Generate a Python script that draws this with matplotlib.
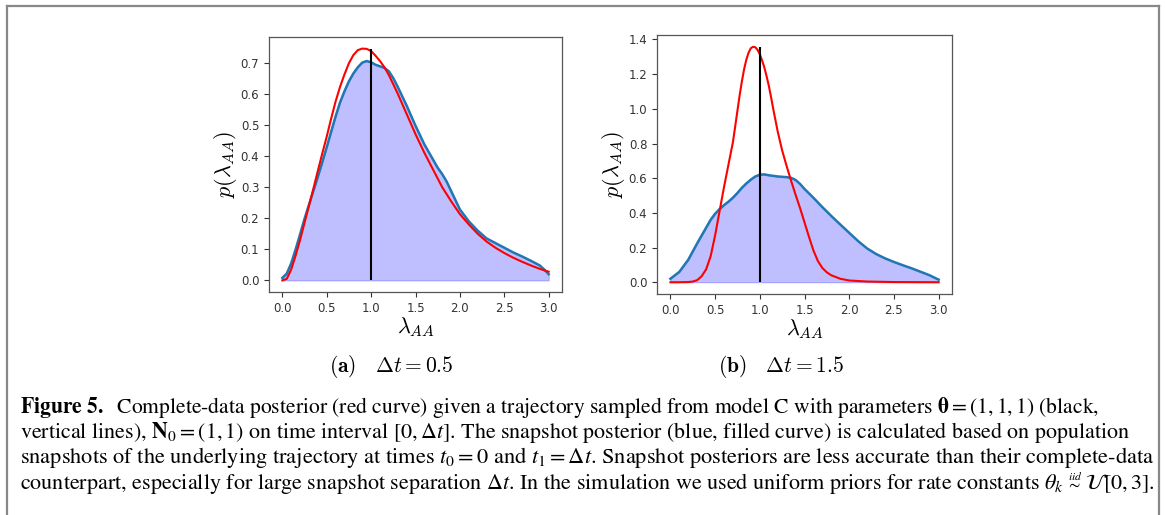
import matplotlib
matplotlib.use("Agg")
import matplotlib.pyplot as plt
from matplotlib.lines import Line2D

# ---------------- data ----------------
true_value = 1.0

# panel (a): dt = 0.5
red_a_x = [0, 0.05, 0.1, 0.15, 0.2, 0.25, 0.3, 0.35, 0.4, 0.45, 0.5, 0.55, 0.6, 0.65, 0.7,
           0.75, 0.8, 0.85, 0.9, 0.95, 1.0, 1.05, 1.1, 1.15, 1.2, 1.3, 1.4, 1.5, 1.6, 1.7,
           1.8, 1.9, 2.0, 2.1, 2.2, 2.3, 2.4, 2.5, 2.6, 2.7, 2.8, 2.9, 3.0]
red_a_y = [0.0, 0.005, 0.035, 0.08, 0.13, 0.185, 0.24, 0.295, 0.352, 0.408, 0.462, 0.52,
           0.575, 0.622, 0.662, 0.698, 0.724, 0.74, 0.745, 0.744, 0.737, 0.722, 0.705,
           0.685, 0.66, 0.60, 0.535, 0.47, 0.41, 0.355, 0.30, 0.255, 0.213, 0.18, 0.15,
           0.125, 0.105, 0.088, 0.073, 0.06, 0.048, 0.037, 0.028]
blue_a_x = [0, 0.05, 0.1, 0.15, 0.2, 0.25, 0.3, 0.35, 0.4, 0.45, 0.5, 0.55, 0.6, 0.65, 0.7,
            0.75, 0.8, 0.85, 0.9, 0.95, 1.0, 1.05, 1.1, 1.15, 1.2, 1.25, 1.3, 1.4, 1.5,
            1.6, 1.7, 1.75, 1.8, 1.85, 1.9, 2.0, 2.1, 2.2, 2.3, 2.4, 2.5, 2.6, 2.7, 2.8,
            2.9, 2.95, 3.0]
blue_a_y = [0.008, 0.022, 0.055, 0.1, 0.148, 0.198, 0.243, 0.288, 0.333, 0.38, 0.428,
            0.478, 0.527, 0.572, 0.608, 0.64, 0.665, 0.685, 0.70, 0.705, 0.701, 0.693,
            0.688, 0.683, 0.672, 0.65, 0.622, 0.562, 0.497, 0.437, 0.387, 0.362, 0.342,
            0.318, 0.288, 0.228, 0.19, 0.16, 0.135, 0.12, 0.105, 0.09, 0.077, 0.063,
            0.048, 0.035, 0.02]

# panel (b): dt = 1.5
red_b_x = [0, 0.1, 0.2, 0.25, 0.3, 0.35, 0.4, 0.45, 0.5, 0.55, 0.6, 0.65, 0.7, 0.725, 0.75,
           0.775, 0.8, 0.825, 0.85, 0.875, 0.9, 0.925, 0.95, 0.975, 1.0, 1.025, 1.05,
           1.075, 1.1, 1.125, 1.15, 1.2, 1.25, 1.3, 1.35, 1.4, 1.45, 1.5, 1.55, 1.6, 1.65,
           1.7, 1.75, 1.8, 1.9, 2.0, 2.2, 2.5, 3.0]
red_b_y = [0, 0, 0.001, 0.004, 0.012, 0.035, 0.075, 0.15, 0.27, 0.41, 0.55, 0.68, 0.81,
           0.90, 0.99, 1.08, 1.16, 1.23, 1.285, 1.325, 1.35, 1.358, 1.355, 1.34, 1.315,
           1.28, 1.24, 1.19, 1.135, 1.07, 1.0, 0.87, 0.76, 0.67, 0.585, 0.505, 0.428,
           0.345, 0.262, 0.183, 0.122, 0.082, 0.057, 0.04, 0.02, 0.01, 0.004, 0.001, 0]
blue_b_x = [0, 0.1, 0.2, 0.3, 0.4, 0.45, 0.5, 0.55, 0.6, 0.65, 0.7, 0.75, 0.8, 0.85, 0.9,
            0.95, 1.0, 1.05, 1.1, 1.2, 1.3, 1.35, 1.4, 1.45, 1.5, 1.6, 1.7, 1.8, 1.9, 2.0,
            2.1, 2.2, 2.3, 2.4, 2.5, 2.6, 2.7, 2.8, 2.9, 3.0]
blue_b_y = [0.02, 0.06, 0.13, 0.225, 0.315, 0.36, 0.395, 0.422, 0.445, 0.465, 0.488, 0.515,
            0.545, 0.57, 0.592, 0.61, 0.62, 0.622, 0.617, 0.61, 0.606, 0.602, 0.59, 0.567,
            0.538, 0.487, 0.433, 0.382, 0.333, 0.285, 0.237, 0.195, 0.163, 0.138, 0.117,
            0.098, 0.08, 0.06, 0.04, 0.015]

x_ticks = [0.0, 0.5, 1.0, 1.5, 2.0, 2.5, 3.0]
y_ticks_a = [0.0, 0.1, 0.2, 0.3, 0.4, 0.5, 0.6, 0.7]
y_ticks_b = [0.0, 0.2, 0.4, 0.6, 0.8, 1.0, 1.2, 1.4]

sub_a = r'$\mathbf{(a)}\quad \Delta t = 0.5$'
sub_b = r'$\mathbf{(b)}\quad \Delta t = 1.5$'

caption_lines = [
    r'$\mathbf{Figure\ 5.}$  Complete-data posterior (red curve) given a trajectory sampled from model C with parameters $\mathbf{\theta} = (1, 1, 1)$ (black,',
    r'vertical lines), $\mathbf{N}_0 = (1, 1)$ on time interval $[0, \Delta t]$. The snapshot posterior (blue, filled curve) is calculated based on population',
    r'snapshots of the underlying trajectory at times $t_0 = 0$ and $t_1 = \Delta t$. Snapshot posteriors are less accurate than their complete-data',
]
caption_last_parts = [
    r'counterpart, especially for large snapshot separation $\Delta t$. In the simulation we used uniform priors for rate constants $\theta_k$',
    r'$\overset{iid}{\sim}$',
    r'$\mathcal{U}[0, 3]$.',
]
caption_end_px = [1098, 1126, 1152, 1153]

# ---------------- figure ----------------
W, H = 1165, 515
fig = plt.figure(figsize=(W / 100, H / 100), dpi=100)

def px_axes(x0, y0, x1, y1):
    return fig.add_axes([x0 / W, 1 - y1 / H, (x1 - x0) / W, (y1 - y0) / H])

ax_a = px_axes(269, 37, 562, 292)
ax_b = px_axes(657, 35, 952, 294)

panels = [
    (ax_a, red_a_x, red_a_y, blue_a_x, blue_a_y, y_ticks_a),
    (ax_b, red_b_x, red_b_y, blue_b_x, blue_b_y, y_ticks_b),
]
for ax, rx, ry, bx, by, yt in panels:
    ax.fill_between(bx, by, 0, color=(0.0, 0.0, 1.0), alpha=0.25, linewidth=0.8)
    ax.plot(bx, by, color='#1f77b4', linewidth=1.8, solid_joinstyle='round')
    ax.plot(rx, ry, color='red', linewidth=1.5, solid_joinstyle='round')
    ax.vlines(true_value, 0, max(ry), color='black', linewidth=1.5)
    ax.set_xticks(x_ticks)
    ax.set_xticklabels([f'{v:.1f}' for v in x_ticks])
    ax.set_yticks(yt)
    ax.set_yticklabels([f'{v:.1f}' for v in yt])
    ax.tick_params(labelsize=8.5, colors='#333333', length=3.5, width=0.8)
    for sp in ax.spines.values():
        sp.set_color('#555555')
        sp.set_linewidth(0.9)
    ax.set_xlabel(r'$\lambda_{AA}$', fontsize=16, math_fontfamily='cm', labelpad=0)
    ax.set_ylabel(r'$p(\lambda_{AA})$', fontsize=16, math_fontfamily='cm', labelpad=1)

fig.text(391 / W, 1 - 367 / H, sub_a, fontsize=15.5, math_fontfamily='cm',
         ha='center', va='center')
fig.text(781 / W, 1 - 367 / H, sub_b, fontsize=15.5, math_fontfamily='cm',
         ha='center', va='center')

# caption
base_fs = 13
cap_kw = dict(family='STIXGeneral', math_fontfamily='stix', va='baseline')
fig.canvas.draw()
r = fig.canvas.get_renderer()
x_left = 20
baseline_px = [413, 438, 463, 489]
for i, line in enumerate(caption_lines):
    t = fig.text(x_left / W, 1 - baseline_px[i] / H, line, fontsize=base_fs, ha='left',
                 **cap_kw)
    bb = t.get_window_extent(r)
    t.set_fontsize(base_fs * (caption_end_px[i] - x_left) / bb.width)

# last line, built from parts (the small "iid over tilde" part is scaled down)
part_scale = [1.0, 0.75, 1.0]

def layout_last(fs):
    xs = x_left
    objs = []
    for j, part in enumerate(caption_last_parts):
        t = fig.text(xs / W, 1 - baseline_px[3] / H, part, fontsize=fs * part_scale[j],
                     ha='left', **cap_kw)
        bb = t.get_window_extent(r)
        objs.append(t)
        xs = xs + bb.width + (0.15 * fs if j < len(caption_last_parts) - 1 else 0)
    return objs, xs

objs, xend = layout_last(base_fs)
for t in objs:
    t.remove()
fs4 = base_fs * (caption_end_px[3] - x_left) / (xend - x_left)
layout_last(fs4)

# frame around the figure (open at bottom)
frame_col = '#888888'
for xs_, ys_ in [([7 / W, 7 / W], [0, 1 - 6 / H]),
                 ([7 / W, 1159 / W], [1 - 6 / H, 1 - 6 / H]),
                 ([1159 / W, 1159 / W], [0, 1 - 6 / H])]:
    fig.add_artist(Line2D(xs_, ys_, color=frame_col, lw=1.6, transform=fig.transFigure))

fig.savefig('out.png', dpi=100)
